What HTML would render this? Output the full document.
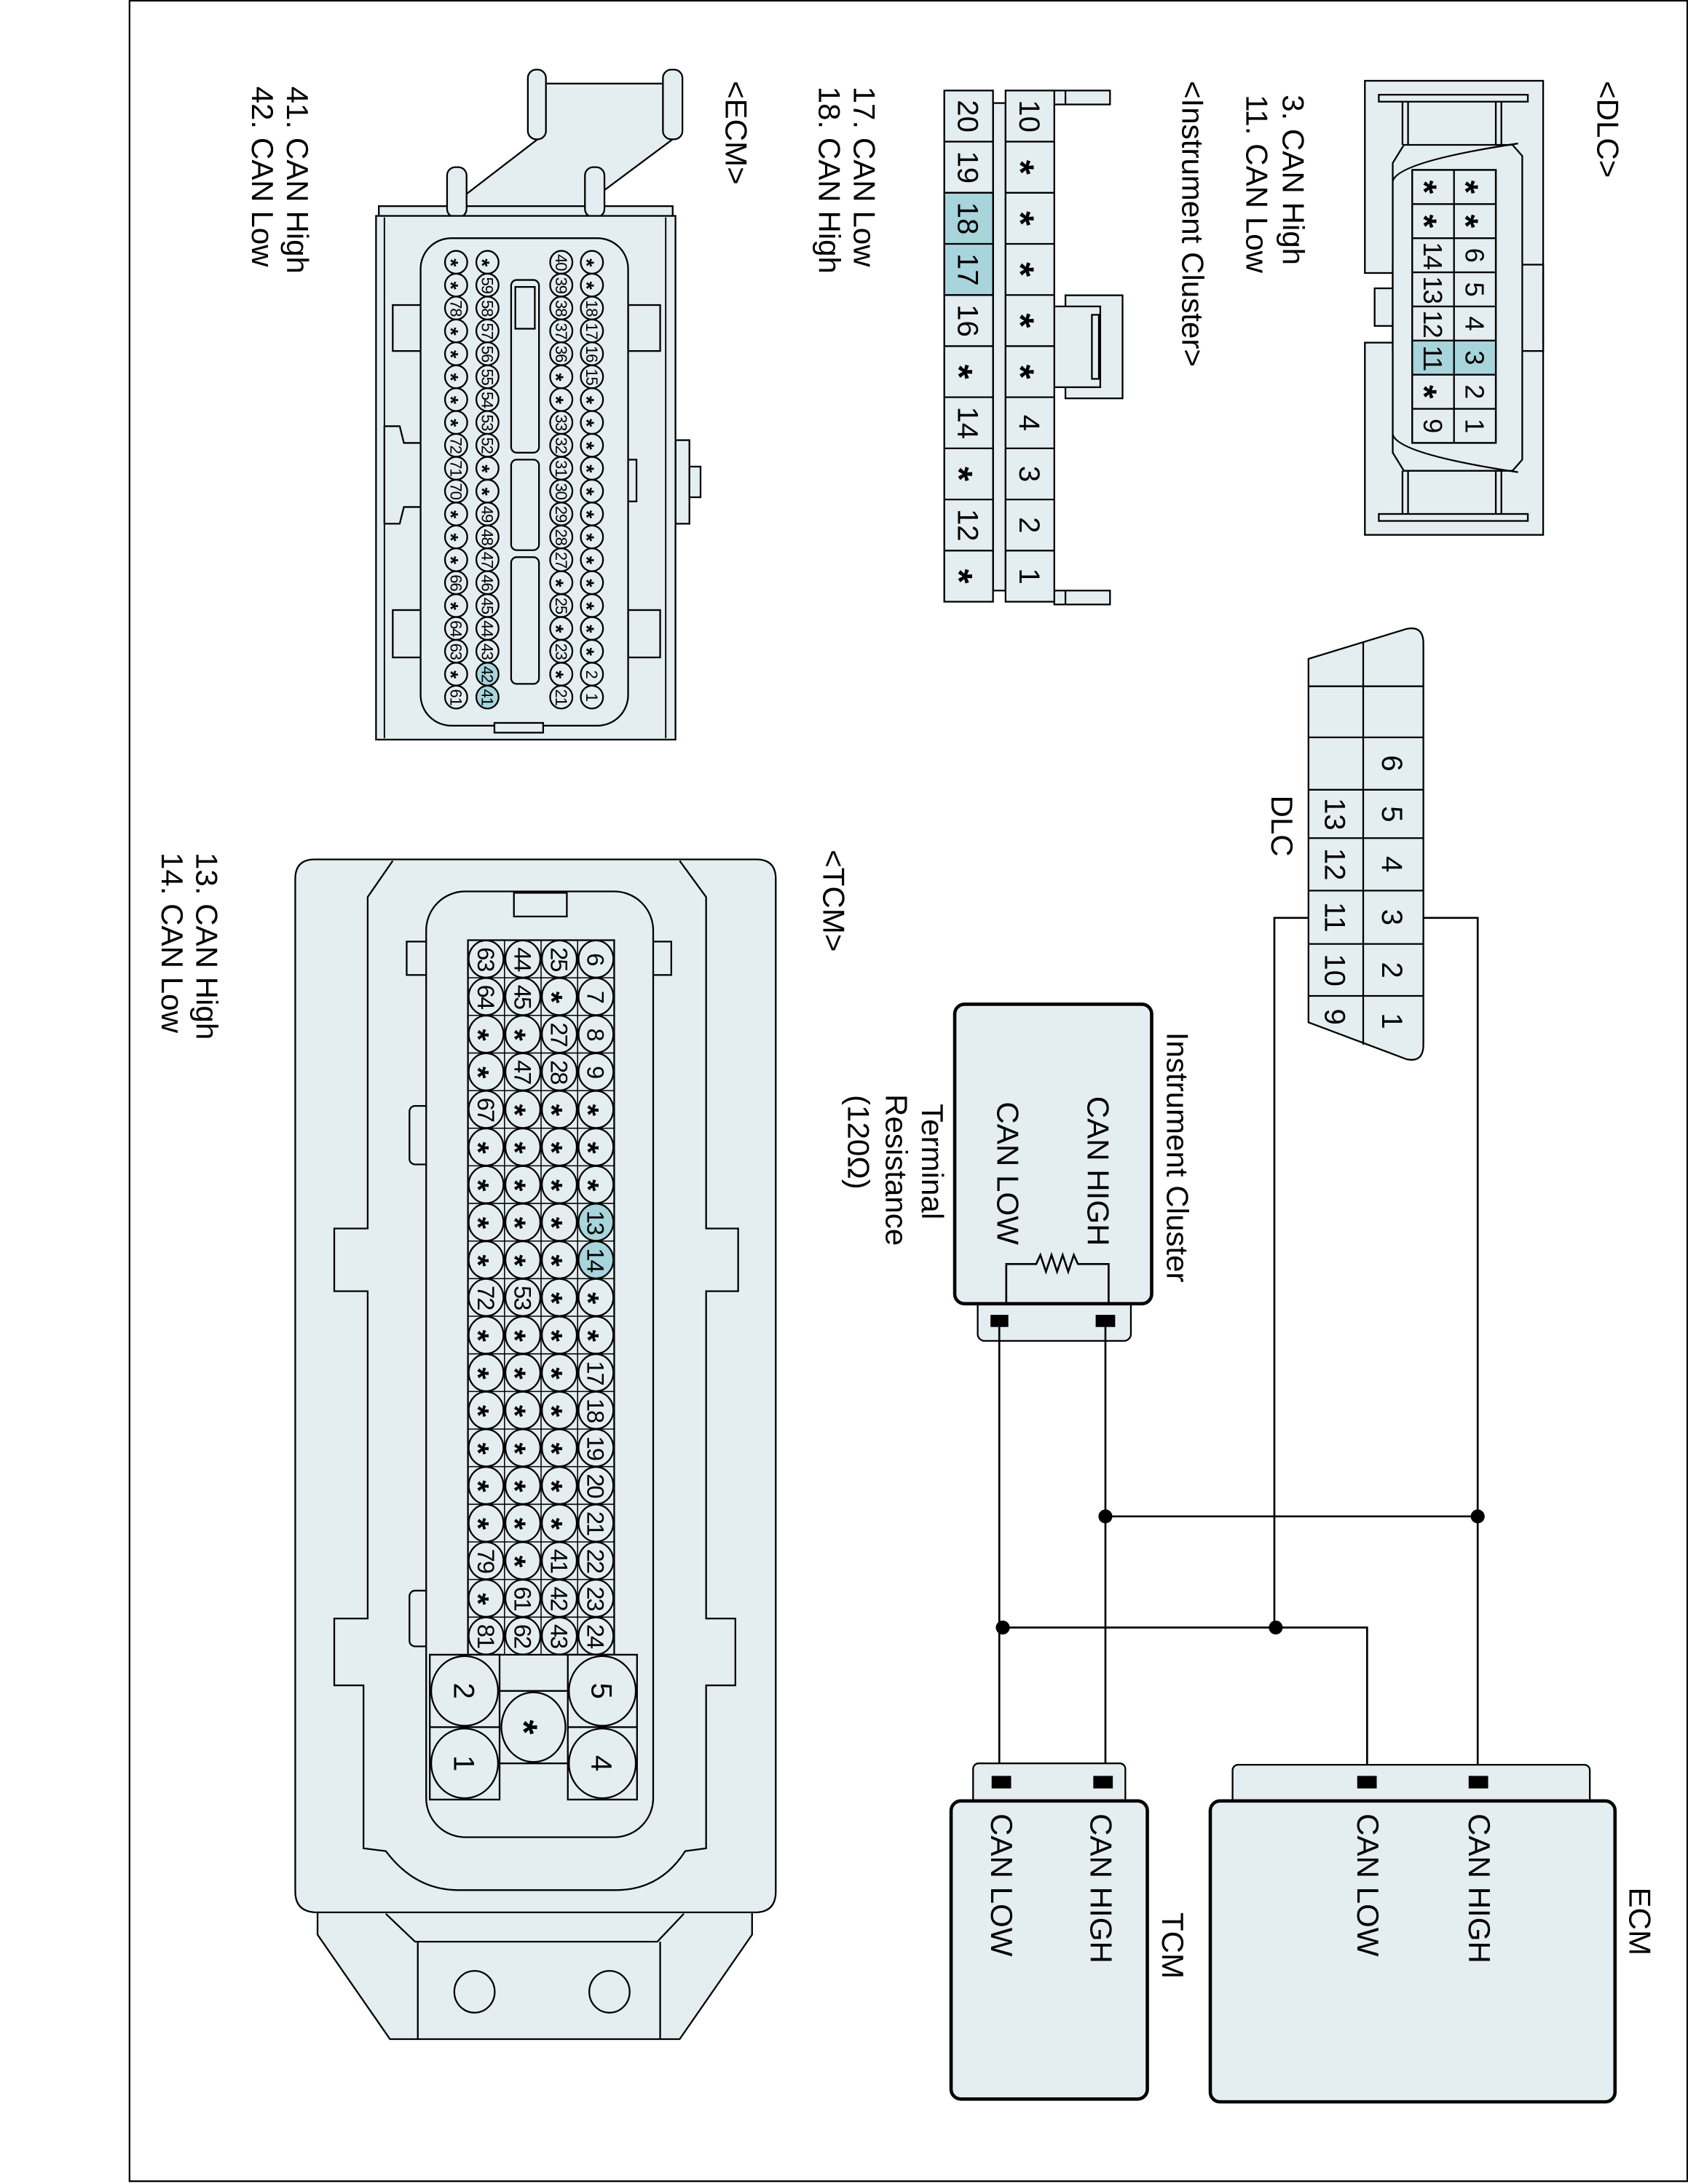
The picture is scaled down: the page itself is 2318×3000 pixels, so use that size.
<!DOCTYPE html>
<html><head><meta charset="utf-8"><style>
html,body{margin:0;padding:0;background:#fff}
svg{display:block}
text{font-family:"Liberation Sans",sans-serif;fill:#000}
.L{font-size:22px}
.p{font-size:19px;text-anchor:middle}
.q{font-size:21px;text-anchor:middle}
.e{font-size:11.5px;text-anchor:middle;letter-spacing:-0.6px}
.t{font-size:17px;text-anchor:middle;letter-spacing:-1px}
.s{font-weight:bold}
.p.s{font-size:25px}
.q.s{font-size:27px}
.e.s{font-size:15px}
.t.s{font-size:22px}
.f{fill:#e4eef0;stroke:#000;stroke-width:1.2}
.h{fill:#a8d4dc}
.w{fill:none;stroke:#000;stroke-width:1.4}
</style></head><body>
<svg width="2318" height="3000" viewBox="0 0 1212 1568" preserveAspectRatio="none" xmlns="http://www.w3.org/2000/svg">
<rect x="0" y="0" width="1212" height="1568" fill="#fff"/>
<rect x="93" y="0.5" width="1118.5" height="1565.5" fill="none" stroke="#000" stroke-width="1.2"/>

<text class="L" transform="translate(1147,58) rotate(90)">&lt;DLC&gt;</text>
<text class="L" transform="translate(921,68) rotate(90)">3. CAN High</text>
<text class="L" transform="translate(895,68) rotate(90)">11. CAN Low</text>
<text class="L" transform="translate(849,58) rotate(90)">&lt;Instrument Cluster&gt;</text>
<text class="L" transform="translate(613,62) rotate(90)">17. CAN Low</text>
<text class="L" transform="translate(588,62) rotate(90)">18. CAN High</text>
<text class="L" transform="translate(521,58) rotate(90)">&lt;ECM&gt;</text>
<text class="L" transform="translate(206,62) rotate(90)">41. CAN High</text>
<text class="L" transform="translate(181,62) rotate(90)">42. CAN Low</text>
<text class="L" transform="translate(591,610) rotate(90)">&lt;TCM&gt;</text>
<text class="L" transform="translate(141,612) rotate(90)">13. CAN High</text>
<text class="L" transform="translate(116,612) rotate(90)">14. CAN Low</text>

<!-- DLC connector -->
<rect class="f" x="980" y="58" width="128" height="138"/>
<rect class="f" x="980" y="246" width="128" height="138"/>
<rect class="f" x="1000" y="190" width="108" height="62" stroke="none"/>
<line x1="1000" y1="196" x2="1000" y2="246" stroke="#000" stroke-width="1.2"/>
<line x1="1108" y1="196" x2="1108" y2="246" stroke="#000" stroke-width="1.2"/>
<rect class="f" x="987" y="207" width="13" height="27"/>
<rect class="f" x="990" y="68" width="107" height="5"/>
<rect class="f" x="990" y="369" width="107" height="5"/>
<path class="f" d="M1007,73 V104 M1011,73 V104 M1074,73 V104 M1078,73 V104 M1007,338 V369 M1011,338 V369 M1074,338 V369 M1078,338 V369"/>
<path class="f" d="M1000,117 L1008,104 L1086,104 L1093,112 L1093,330 L1086,338 L1008,338 L1000,325 Z"/>
<path d="M1000,130 Q1004,116 1090,103 M1000,312 Q1004,326 1090,339" fill="none" stroke="#000" stroke-width="1.2"/>
<rect class="f" x="1014" y="122" width="60" height="196"/>
<rect class="h" x="1014" y="244.5" width="60" height="24.5"/>
<path d="M1044,122 V318 M1014,146.5 H1074 M1014,171 H1074 M1014,195.5 H1074 M1014,220 H1074 M1014,244.5 H1074 M1014,269 H1074 M1014,293.5 H1074" stroke="#000" stroke-width="1.2"/>
<rect x="1014" y="122" width="60" height="196" fill="none" stroke="#000" stroke-width="1.2"/>
<g>
<text class="p s" transform="translate(1059,134.3) rotate(90)" dy=".6em">*</text>
<text class="p s" transform="translate(1059,158.8) rotate(90)" dy=".6em">*</text>
<text class="p" transform="translate(1059,183.3) rotate(90)" dy=".36em">6</text>
<text class="p" transform="translate(1059,207.8) rotate(90)" dy=".36em">5</text>
<text class="p" transform="translate(1059,232.3) rotate(90)" dy=".36em">4</text>
<text class="p" transform="translate(1059,256.8) rotate(90)" dy=".36em">3</text>
<text class="p" transform="translate(1059,281.3) rotate(90)" dy=".36em">2</text>
<text class="p" transform="translate(1059,305.8) rotate(90)" dy=".36em">1</text>
<text class="p s" transform="translate(1029,134.3) rotate(90)" dy=".6em">*</text>
<text class="p s" transform="translate(1029,158.8) rotate(90)" dy=".6em">*</text>
<text class="p" transform="translate(1029,183.3) rotate(90)" dy=".36em" letter-spacing="-1">14</text>
<text class="p" transform="translate(1029,207.8) rotate(90)" dy=".36em" letter-spacing="-1">13</text>
<text class="p" transform="translate(1029,232.3) rotate(90)" dy=".36em" letter-spacing="-1">12</text>
<text class="p" transform="translate(1029,256.8) rotate(90)" dy=".36em" letter-spacing="-1">11</text>
<text class="p s" transform="translate(1029,281.3) rotate(90)" dy=".6em">*</text>
<text class="p" transform="translate(1029,305.8) rotate(90)" dy=".36em">9</text>
</g>

<!-- Instrument cluster connector -->
<rect class="f" x="757" y="65" width="40" height="10"/>
<line x1="765" y1="65" x2="765" y2="75" stroke="#000" stroke-width="1.2"/>
<rect class="f" x="757" y="424" width="40" height="10"/>
<line x1="765" y1="424" x2="765" y2="434" stroke="#000" stroke-width="1.2"/>
<rect class="f" x="765" y="212" width="41" height="74"/>
<rect class="f" x="757" y="220" width="33" height="58"/>
<rect class="f" x="784" y="226" width="5" height="46"/>
<rect class="f" x="713" y="74" width="9" height="350"/>
<rect class="f" x="722" y="65" width="35" height="367"/>
<rect class="f" x="678" y="65" width="35" height="367"/>
<rect class="h" x="678" y="138.4" width="35" height="73.4" stroke="#000" stroke-width="1.2"/>
<path d="M722,101.7 H757 M722,138.4 H757 M722,175.1 H757 M722,211.8 H757 M722,248.5 H757 M722,285.2 H757 M722,321.9 H757 M722,358.6 H757 M722,395.3 H757 M678,101.7 H713 M678,138.4 H713 M678,175.1 H713 M678,211.8 H713 M678,248.5 H713 M678,285.2 H713 M678,321.9 H713 M678,358.6 H713 M678,395.3 H713" stroke="#000" stroke-width="1.2"/>
<g>
<text class="q" transform="translate(739.5,83.4) rotate(90)" dy=".36em">10</text>
<text class="q s" transform="translate(739.5,120.1) rotate(90)" dy=".6em">*</text>
<text class="q s" transform="translate(739.5,156.8) rotate(90)" dy=".6em">*</text>
<text class="q s" transform="translate(739.5,193.5) rotate(90)" dy=".6em">*</text>
<text class="q s" transform="translate(739.5,230.2) rotate(90)" dy=".6em">*</text>
<text class="q s" transform="translate(739.5,266.9) rotate(90)" dy=".6em">*</text>
<text class="q" transform="translate(739.5,303.6) rotate(90)" dy=".36em">4</text>
<text class="q" transform="translate(739.5,340.3) rotate(90)" dy=".36em">3</text>
<text class="q" transform="translate(739.5,377) rotate(90)" dy=".36em">2</text>
<text class="q" transform="translate(739.5,413.7) rotate(90)" dy=".36em">1</text>
<text class="q" transform="translate(695.5,83.4) rotate(90)" dy=".36em">20</text>
<text class="q" transform="translate(695.5,120.1) rotate(90)" dy=".36em">19</text>
<text class="q" transform="translate(695.5,156.8) rotate(90)" dy=".36em">18</text>
<text class="q" transform="translate(695.5,193.5) rotate(90)" dy=".36em">17</text>
<text class="q" transform="translate(695.5,230.2) rotate(90)" dy=".36em">16</text>
<text class="q s" transform="translate(695.5,266.9) rotate(90)" dy=".6em">*</text>
<text class="q" transform="translate(695.5,303.6) rotate(90)" dy=".36em">14</text>
<text class="q s" transform="translate(695.5,340.3) rotate(90)" dy=".6em">*</text>
<text class="q" transform="translate(695.5,377) rotate(90)" dy=".36em">12</text>
<text class="q s" transform="translate(695.5,413.7) rotate(90)" dy=".6em">*</text>
</g>

<!-- ECM connector -->
<path class="f" d="M386,60 L483,60 L483,100 L432,138 L432,150 L334,150 L334,140 L386,100 Z"/>
<rect class="f" x="379" y="50" width="13" height="50" rx="6"/>
<rect class="f" x="476" y="50" width="14" height="50" rx="6"/>
<rect class="f" x="272" y="148" width="211" height="8"/>
<rect class="f" x="321" y="120" width="14" height="36" rx="6"/>
<rect class="f" x="420" y="120" width="14" height="36" rx="6"/>
<rect class="f" x="485" y="316" width="10" height="60"/>
<rect class="f" x="495" y="335" width="8" height="22"/>
<rect class="f" x="270" y="155" width="215" height="376"/>
<path d="M276,156 V530 M478,156 V530" stroke="#000" stroke-width="1"/>
<rect class="f" x="282" y="219" width="21" height="33"/>
<rect class="f" x="282" y="438" width="21" height="34"/>
<rect class="f" x="451" y="219" width="23" height="33"/>
<rect class="f" x="451" y="438" width="23" height="34"/>
<path class="f" d="M276,306 L287,306 L290,318 L303,318 L303,364 L290,364 L287,376 L276,376 Z"/>
<rect class="f" x="449" y="330" width="8" height="30"/>
<rect class="f" x="302" y="171" width="149" height="350" rx="22"/>
<rect class="f" x="355" y="519" width="35" height="7"/>
<rect class="f" x="367" y="201" width="20" height="124" rx="4"/>
<rect class="f" x="370" y="206" width="14" height="30"/>
<rect class="f" x="367" y="330" width="20" height="65" rx="4"/>
<rect class="f" x="367" y="400" width="20" height="91" rx="4"/>
<g class="f">
<ellipse cx="327.5" cy="188.3" rx="8" ry="8.2"/><ellipse cx="327.5" cy="204.7" rx="8" ry="8.2"/><ellipse cx="327.5" cy="221.2" rx="8" ry="8.2"/><ellipse cx="327.5" cy="237.6" rx="8" ry="8.2"/><ellipse cx="327.5" cy="254" rx="8" ry="8.2"/><ellipse cx="327.5" cy="270.5" rx="8" ry="8.2"/><ellipse cx="327.5" cy="286.9" rx="8" ry="8.2"/><ellipse cx="327.5" cy="303.3" rx="8" ry="8.2"/><ellipse cx="327.5" cy="319.7" rx="8" ry="8.2"/><ellipse cx="327.5" cy="336.2" rx="8" ry="8.2"/><ellipse cx="327.5" cy="352.6" rx="8" ry="8.2"/><ellipse cx="327.5" cy="369" rx="8" ry="8.2"/><ellipse cx="327.5" cy="385.5" rx="8" ry="8.2"/><ellipse cx="327.5" cy="401.9" rx="8" ry="8.2"/><ellipse cx="327.5" cy="418.3" rx="8" ry="8.2"/><ellipse cx="327.5" cy="434.8" rx="8" ry="8.2"/><ellipse cx="327.5" cy="451.2" rx="8" ry="8.2"/><ellipse cx="327.5" cy="467.6" rx="8" ry="8.2"/><ellipse cx="327.5" cy="484" rx="8" ry="8.2"/><ellipse cx="327.5" cy="500.5" rx="8" ry="8.2"/>
<ellipse cx="350" cy="188.3" rx="8" ry="8.2"/><ellipse cx="350" cy="204.7" rx="8" ry="8.2"/><ellipse cx="350" cy="221.2" rx="8" ry="8.2"/><ellipse cx="350" cy="237.6" rx="8" ry="8.2"/><ellipse cx="350" cy="254" rx="8" ry="8.2"/><ellipse cx="350" cy="270.5" rx="8" ry="8.2"/><ellipse cx="350" cy="286.9" rx="8" ry="8.2"/><ellipse cx="350" cy="303.3" rx="8" ry="8.2"/><ellipse cx="350" cy="319.7" rx="8" ry="8.2"/><ellipse cx="350" cy="336.2" rx="8" ry="8.2"/><ellipse cx="350" cy="352.6" rx="8" ry="8.2"/><ellipse cx="350" cy="369" rx="8" ry="8.2"/><ellipse cx="350" cy="385.5" rx="8" ry="8.2"/><ellipse cx="350" cy="401.9" rx="8" ry="8.2"/><ellipse cx="350" cy="418.3" rx="8" ry="8.2"/><ellipse cx="350" cy="434.8" rx="8" ry="8.2"/><ellipse cx="350" cy="451.2" rx="8" ry="8.2"/><ellipse cx="350" cy="467.6" rx="8" ry="8.2"/><ellipse cx="350" cy="484" rx="8" ry="8.2" fill="#a8d4dc"/><ellipse cx="350" cy="500.5" rx="8" ry="8.2" fill="#a8d4dc"/>
<ellipse cx="403" cy="188.3" rx="8" ry="8.2"/><ellipse cx="403" cy="204.7" rx="8" ry="8.2"/><ellipse cx="403" cy="221.2" rx="8" ry="8.2"/><ellipse cx="403" cy="237.6" rx="8" ry="8.2"/><ellipse cx="403" cy="254" rx="8" ry="8.2"/><ellipse cx="403" cy="270.5" rx="8" ry="8.2"/><ellipse cx="403" cy="286.9" rx="8" ry="8.2"/><ellipse cx="403" cy="303.3" rx="8" ry="8.2"/><ellipse cx="403" cy="319.7" rx="8" ry="8.2"/><ellipse cx="403" cy="336.2" rx="8" ry="8.2"/><ellipse cx="403" cy="352.6" rx="8" ry="8.2"/><ellipse cx="403" cy="369" rx="8" ry="8.2"/><ellipse cx="403" cy="385.5" rx="8" ry="8.2"/><ellipse cx="403" cy="401.9" rx="8" ry="8.2"/><ellipse cx="403" cy="418.3" rx="8" ry="8.2"/><ellipse cx="403" cy="434.8" rx="8" ry="8.2"/><ellipse cx="403" cy="451.2" rx="8" ry="8.2"/><ellipse cx="403" cy="467.6" rx="8" ry="8.2"/><ellipse cx="403" cy="484" rx="8" ry="8.2"/><ellipse cx="403" cy="500.5" rx="8" ry="8.2"/>
<ellipse cx="425" cy="188.3" rx="8" ry="8.2"/><ellipse cx="425" cy="204.7" rx="8" ry="8.2"/><ellipse cx="425" cy="221.2" rx="8" ry="8.2"/><ellipse cx="425" cy="237.6" rx="8" ry="8.2"/><ellipse cx="425" cy="254" rx="8" ry="8.2"/><ellipse cx="425" cy="270.5" rx="8" ry="8.2"/><ellipse cx="425" cy="286.9" rx="8" ry="8.2"/><ellipse cx="425" cy="303.3" rx="8" ry="8.2"/><ellipse cx="425" cy="319.7" rx="8" ry="8.2"/><ellipse cx="425" cy="336.2" rx="8" ry="8.2"/><ellipse cx="425" cy="352.6" rx="8" ry="8.2"/><ellipse cx="425" cy="369" rx="8" ry="8.2"/><ellipse cx="425" cy="385.5" rx="8" ry="8.2"/><ellipse cx="425" cy="401.9" rx="8" ry="8.2"/><ellipse cx="425" cy="418.3" rx="8" ry="8.2"/><ellipse cx="425" cy="434.8" rx="8" ry="8.2"/><ellipse cx="425" cy="451.2" rx="8" ry="8.2"/><ellipse cx="425" cy="467.6" rx="8" ry="8.2"/><ellipse cx="425" cy="484" rx="8" ry="8.2"/><ellipse cx="425" cy="500.5" rx="8" ry="8.2"/>
</g>
<g>
<text class="e s" transform="translate(327.5,188.3) rotate(90)" dy=".6em">*</text>
<text class="e s" transform="translate(327.5,204.7) rotate(90)" dy=".6em">*</text>
<text class="e" transform="translate(327.5,221.2) rotate(90)" dy=".36em">78</text>
<text class="e s" transform="translate(327.5,237.6) rotate(90)" dy=".6em">*</text>
<text class="e s" transform="translate(327.5,254) rotate(90)" dy=".6em">*</text>
<text class="e s" transform="translate(327.5,270.5) rotate(90)" dy=".6em">*</text>
<text class="e s" transform="translate(327.5,286.9) rotate(90)" dy=".6em">*</text>
<text class="e s" transform="translate(327.5,303.3) rotate(90)" dy=".6em">*</text>
<text class="e" transform="translate(327.5,319.7) rotate(90)" dy=".36em">72</text>
<text class="e" transform="translate(327.5,336.2) rotate(90)" dy=".36em">71</text>
<text class="e" transform="translate(327.5,352.6) rotate(90)" dy=".36em">70</text>
<text class="e s" transform="translate(327.5,369) rotate(90)" dy=".6em">*</text>
<text class="e s" transform="translate(327.5,385.5) rotate(90)" dy=".6em">*</text>
<text class="e s" transform="translate(327.5,401.9) rotate(90)" dy=".6em">*</text>
<text class="e" transform="translate(327.5,418.3) rotate(90)" dy=".36em">66</text>
<text class="e s" transform="translate(327.5,434.8) rotate(90)" dy=".6em">*</text>
<text class="e" transform="translate(327.5,451.2) rotate(90)" dy=".36em">64</text>
<text class="e" transform="translate(327.5,467.6) rotate(90)" dy=".36em">63</text>
<text class="e s" transform="translate(327.5,484) rotate(90)" dy=".6em">*</text>
<text class="e" transform="translate(327.5,500.5) rotate(90)" dy=".36em">61</text>

<text class="e s" transform="translate(350,188.3) rotate(90)" dy=".6em">*</text>
<text class="e" transform="translate(350,204.7) rotate(90)" dy=".36em">59</text>
<text class="e" transform="translate(350,221.2) rotate(90)" dy=".36em">58</text>
<text class="e" transform="translate(350,237.6) rotate(90)" dy=".36em">57</text>
<text class="e" transform="translate(350,254) rotate(90)" dy=".36em">56</text>
<text class="e" transform="translate(350,270.5) rotate(90)" dy=".36em">55</text>
<text class="e" transform="translate(350,286.9) rotate(90)" dy=".36em">54</text>
<text class="e" transform="translate(350,303.3) rotate(90)" dy=".36em">53</text>
<text class="e" transform="translate(350,319.7) rotate(90)" dy=".36em">52</text>
<text class="e s" transform="translate(350,336.2) rotate(90)" dy=".6em">*</text>
<text class="e s" transform="translate(350,352.6) rotate(90)" dy=".6em">*</text>
<text class="e" transform="translate(350,369) rotate(90)" dy=".36em">49</text>
<text class="e" transform="translate(350,385.5) rotate(90)" dy=".36em">48</text>
<text class="e" transform="translate(350,401.9) rotate(90)" dy=".36em">47</text>
<text class="e" transform="translate(350,418.3) rotate(90)" dy=".36em">46</text>
<text class="e" transform="translate(350,434.8) rotate(90)" dy=".36em">45</text>
<text class="e" transform="translate(350,451.2) rotate(90)" dy=".36em">44</text>
<text class="e" transform="translate(350,467.6) rotate(90)" dy=".36em">43</text>
<text class="e" transform="translate(350,484) rotate(90)" dy=".36em">42</text>
<text class="e" transform="translate(350,500.5) rotate(90)" dy=".36em">41</text>

<text class="e" transform="translate(403,188.3) rotate(90)" dy=".36em">40</text>
<text class="e" transform="translate(403,204.7) rotate(90)" dy=".36em">39</text>
<text class="e" transform="translate(403,221.2) rotate(90)" dy=".36em">38</text>
<text class="e" transform="translate(403,237.6) rotate(90)" dy=".36em">37</text>
<text class="e" transform="translate(403,254) rotate(90)" dy=".36em">36</text>
<text class="e s" transform="translate(403,270.5) rotate(90)" dy=".6em">*</text>
<text class="e s" transform="translate(403,286.9) rotate(90)" dy=".6em">*</text>
<text class="e" transform="translate(403,303.3) rotate(90)" dy=".36em">33</text>
<text class="e" transform="translate(403,319.7) rotate(90)" dy=".36em">32</text>
<text class="e" transform="translate(403,336.2) rotate(90)" dy=".36em">31</text>
<text class="e" transform="translate(403,352.6) rotate(90)" dy=".36em">30</text>
<text class="e" transform="translate(403,369) rotate(90)" dy=".36em">29</text>
<text class="e" transform="translate(403,385.5) rotate(90)" dy=".36em">28</text>
<text class="e" transform="translate(403,401.9) rotate(90)" dy=".36em">27</text>
<text class="e s" transform="translate(403,418.3) rotate(90)" dy=".6em">*</text>
<text class="e" transform="translate(403,434.8) rotate(90)" dy=".36em">25</text>
<text class="e s" transform="translate(403,451.2) rotate(90)" dy=".6em">*</text>
<text class="e" transform="translate(403,467.6) rotate(90)" dy=".36em">23</text>
<text class="e s" transform="translate(403,484) rotate(90)" dy=".6em">*</text>
<text class="e" transform="translate(403,500.5) rotate(90)" dy=".36em">21</text>

<text class="e s" transform="translate(425,188.3) rotate(90)" dy=".6em">*</text>
<text class="e s" transform="translate(425,204.7) rotate(90)" dy=".6em">*</text>
<text class="e" transform="translate(425,221.2) rotate(90)" dy=".36em">18</text>
<text class="e" transform="translate(425,237.6) rotate(90)" dy=".36em">17</text>
<text class="e" transform="translate(425,254) rotate(90)" dy=".36em">16</text>
<text class="e" transform="translate(425,270.5) rotate(90)" dy=".36em">15</text>
<text class="e s" transform="translate(425,286.9) rotate(90)" dy=".6em">*</text>
<text class="e s" transform="translate(425,303.3) rotate(90)" dy=".6em">*</text>
<text class="e s" transform="translate(425,319.7) rotate(90)" dy=".6em">*</text>
<text class="e s" transform="translate(425,336.2) rotate(90)" dy=".6em">*</text>
<text class="e s" transform="translate(425,352.6) rotate(90)" dy=".6em">*</text>
<text class="e s" transform="translate(425,369) rotate(90)" dy=".6em">*</text>
<text class="e s" transform="translate(425,385.5) rotate(90)" dy=".6em">*</text>
<text class="e s" transform="translate(425,401.9) rotate(90)" dy=".6em">*</text>
<text class="e s" transform="translate(425,418.3) rotate(90)" dy=".6em">*</text>
<text class="e s" transform="translate(425,434.8) rotate(90)" dy=".6em">*</text>
<text class="e s" transform="translate(425,451.2) rotate(90)" dy=".6em">*</text>
<text class="e s" transform="translate(425,467.6) rotate(90)" dy=".6em">*</text>
<text class="e" transform="translate(425,484) rotate(90)" dy=".36em">2</text>
<text class="e" transform="translate(425,500.5) rotate(90)" dy=".36em">1</text>
</g>

<!-- TCM connector -->
<path class="f" d="M228,1373 L228,1389 L280,1464 L488,1464 L540,1389 L540,1373 Z"/>
<path d="M277,1374 L298,1394 L472,1394 L491,1374 M300,1394 V1464 M474,1394 V1464" fill="none" stroke="#000" stroke-width="1.2"/>
<ellipse class="f" cx="340.7" cy="1430" rx="14.5" ry="15"/>
<ellipse class="f" cx="437.6" cy="1430" rx="14.5" ry="15"/>
<path class="f" d="M226,617 L543,617 Q557,617 557,631 L557,1358 Q557,1373 542,1373 L228,1373 Q212,1373 212,1358 L212,631 Q212,617 226,617 Z"/>
<path fill="none" stroke="#000" stroke-width="1.2" d="M282,618 L264,644 L264,882 L240,882 L240,927 L264,927 L264,1162 L240,1162 L240,1210 L261,1210 L261,1327 L277,1329 Q298,1357 329,1357 L442,1357 Q474,1357 492,1329 L507,1327 L507,1210 L528,1210 L528,1162 L507,1162 L507,927 L530,927 L530,882 L507,882 L507,644 L488,618"/>
<rect class="f" x="292" y="676" width="190" height="24"/>
<rect class="f" x="294" y="794" width="174" height="42" rx="4"/>
<rect class="f" x="294" y="1142" width="174" height="40" rx="4"/>
<rect class="f" x="306" y="640" width="163" height="679" rx="28"/>
<rect class="f" x="369" y="641" width="38" height="17"/>
<rect class="f" x="336" y="675" width="105" height="513"/>
<path d="M362.25,675 V1188 M388.5,675 V1188 M414.75,675 V1188 M336,702 H441 M336,729 H441 M336,756 H441 M336,783 H441 M336,810 H441 M336,837 H441 M336,864 H441 M336,891 H441 M336,918 H441 M336,945 H441 M336,972 H441 M336,999 H441 M336,1026 H441 M336,1053 H441 M336,1080 H441 M336,1107 H441 M336,1134 H441 M336,1161 H441" stroke="#000" stroke-width="0.8"/>
<g class="f">
<ellipse cx="349" cy="688.5" rx="12.5" ry="13.3"/><ellipse cx="349" cy="715.5" rx="12.5" ry="13.3"/><ellipse cx="349" cy="742.5" rx="12.5" ry="13.3"/><ellipse cx="349" cy="769.5" rx="12.5" ry="13.3"/><ellipse cx="349" cy="796.5" rx="12.5" ry="13.3"/><ellipse cx="349" cy="823.5" rx="12.5" ry="13.3"/><ellipse cx="349" cy="850.5" rx="12.5" ry="13.3"/><ellipse cx="349" cy="877.5" rx="12.5" ry="13.3"/><ellipse cx="349" cy="904.5" rx="12.5" ry="13.3"/><ellipse cx="349" cy="931.5" rx="12.5" ry="13.3"/><ellipse cx="349" cy="958.5" rx="12.5" ry="13.3"/><ellipse cx="349" cy="985.5" rx="12.5" ry="13.3"/><ellipse cx="349" cy="1012.5" rx="12.5" ry="13.3"/><ellipse cx="349" cy="1039.5" rx="12.5" ry="13.3"/><ellipse cx="349" cy="1066.5" rx="12.5" ry="13.3"/><ellipse cx="349" cy="1093.5" rx="12.5" ry="13.3"/><ellipse cx="349" cy="1120.5" rx="12.5" ry="13.3"/><ellipse cx="349" cy="1147.5" rx="12.5" ry="13.3"/><ellipse cx="349" cy="1174.5" rx="12.5" ry="13.3"/>
<ellipse cx="375.4" cy="688.5" rx="12.5" ry="13.3"/><ellipse cx="375.4" cy="715.5" rx="12.5" ry="13.3"/><ellipse cx="375.4" cy="742.5" rx="12.5" ry="13.3"/><ellipse cx="375.4" cy="769.5" rx="12.5" ry="13.3"/><ellipse cx="375.4" cy="796.5" rx="12.5" ry="13.3"/><ellipse cx="375.4" cy="823.5" rx="12.5" ry="13.3"/><ellipse cx="375.4" cy="850.5" rx="12.5" ry="13.3"/><ellipse cx="375.4" cy="877.5" rx="12.5" ry="13.3"/><ellipse cx="375.4" cy="904.5" rx="12.5" ry="13.3"/><ellipse cx="375.4" cy="931.5" rx="12.5" ry="13.3"/><ellipse cx="375.4" cy="958.5" rx="12.5" ry="13.3"/><ellipse cx="375.4" cy="985.5" rx="12.5" ry="13.3"/><ellipse cx="375.4" cy="1012.5" rx="12.5" ry="13.3"/><ellipse cx="375.4" cy="1039.5" rx="12.5" ry="13.3"/><ellipse cx="375.4" cy="1066.5" rx="12.5" ry="13.3"/><ellipse cx="375.4" cy="1093.5" rx="12.5" ry="13.3"/><ellipse cx="375.4" cy="1120.5" rx="12.5" ry="13.3"/><ellipse cx="375.4" cy="1147.5" rx="12.5" ry="13.3"/><ellipse cx="375.4" cy="1174.5" rx="12.5" ry="13.3"/>
<ellipse cx="401.6" cy="688.5" rx="12.5" ry="13.3"/><ellipse cx="401.6" cy="715.5" rx="12.5" ry="13.3"/><ellipse cx="401.6" cy="742.5" rx="12.5" ry="13.3"/><ellipse cx="401.6" cy="769.5" rx="12.5" ry="13.3"/><ellipse cx="401.6" cy="796.5" rx="12.5" ry="13.3"/><ellipse cx="401.6" cy="823.5" rx="12.5" ry="13.3"/><ellipse cx="401.6" cy="850.5" rx="12.5" ry="13.3"/><ellipse cx="401.6" cy="877.5" rx="12.5" ry="13.3"/><ellipse cx="401.6" cy="904.5" rx="12.5" ry="13.3"/><ellipse cx="401.6" cy="931.5" rx="12.5" ry="13.3"/><ellipse cx="401.6" cy="958.5" rx="12.5" ry="13.3"/><ellipse cx="401.6" cy="985.5" rx="12.5" ry="13.3"/><ellipse cx="401.6" cy="1012.5" rx="12.5" ry="13.3"/><ellipse cx="401.6" cy="1039.5" rx="12.5" ry="13.3"/><ellipse cx="401.6" cy="1066.5" rx="12.5" ry="13.3"/><ellipse cx="401.6" cy="1093.5" rx="12.5" ry="13.3"/><ellipse cx="401.6" cy="1120.5" rx="12.5" ry="13.3"/><ellipse cx="401.6" cy="1147.5" rx="12.5" ry="13.3"/><ellipse cx="401.6" cy="1174.5" rx="12.5" ry="13.3"/>
<ellipse cx="427.9" cy="688.5" rx="12.5" ry="13.3"/><ellipse cx="427.9" cy="715.5" rx="12.5" ry="13.3"/><ellipse cx="427.9" cy="742.5" rx="12.5" ry="13.3"/><ellipse cx="427.9" cy="769.5" rx="12.5" ry="13.3"/><ellipse cx="427.9" cy="796.5" rx="12.5" ry="13.3"/><ellipse cx="427.9" cy="823.5" rx="12.5" ry="13.3"/><ellipse cx="427.9" cy="850.5" rx="12.5" ry="13.3"/><ellipse cx="427.9" cy="877.5" rx="12.5" ry="13.3" fill="#a8d4dc"/><ellipse cx="427.9" cy="904.5" rx="12.5" ry="13.3" fill="#a8d4dc"/><ellipse cx="427.9" cy="931.5" rx="12.5" ry="13.3"/><ellipse cx="427.9" cy="958.5" rx="12.5" ry="13.3"/><ellipse cx="427.9" cy="985.5" rx="12.5" ry="13.3"/><ellipse cx="427.9" cy="1012.5" rx="12.5" ry="13.3"/><ellipse cx="427.9" cy="1039.5" rx="12.5" ry="13.3"/><ellipse cx="427.9" cy="1066.5" rx="12.5" ry="13.3"/><ellipse cx="427.9" cy="1093.5" rx="12.5" ry="13.3"/><ellipse cx="427.9" cy="1120.5" rx="12.5" ry="13.3"/><ellipse cx="427.9" cy="1147.5" rx="12.5" ry="13.3"/><ellipse cx="427.9" cy="1174.5" rx="12.5" ry="13.3"/>
</g>
<g>
<text class="t" transform="translate(349,688.5) rotate(90)" dy=".36em">63</text>
<text class="t" transform="translate(349,715.5) rotate(90)" dy=".36em">64</text>
<text class="t s" transform="translate(349,742.5) rotate(90)" dy=".6em">*</text>
<text class="t s" transform="translate(349,769.5) rotate(90)" dy=".6em">*</text>
<text class="t" transform="translate(349,796.5) rotate(90)" dy=".36em">67</text>
<text class="t s" transform="translate(349,823.5) rotate(90)" dy=".6em">*</text>
<text class="t s" transform="translate(349,850.5) rotate(90)" dy=".6em">*</text>
<text class="t s" transform="translate(349,877.5) rotate(90)" dy=".6em">*</text>
<text class="t s" transform="translate(349,904.5) rotate(90)" dy=".6em">*</text>
<text class="t" transform="translate(349,931.5) rotate(90)" dy=".36em">72</text>
<text class="t s" transform="translate(349,958.5) rotate(90)" dy=".6em">*</text>
<text class="t s" transform="translate(349,985.5) rotate(90)" dy=".6em">*</text>
<text class="t s" transform="translate(349,1012.5) rotate(90)" dy=".6em">*</text>
<text class="t s" transform="translate(349,1039.5) rotate(90)" dy=".6em">*</text>
<text class="t s" transform="translate(349,1066.5) rotate(90)" dy=".6em">*</text>
<text class="t s" transform="translate(349,1093.5) rotate(90)" dy=".6em">*</text>
<text class="t" transform="translate(349,1120.5) rotate(90)" dy=".36em">79</text>
<text class="t s" transform="translate(349,1147.5) rotate(90)" dy=".6em">*</text>
<text class="t" transform="translate(349,1174.5) rotate(90)" dy=".36em">81</text>

<text class="t" transform="translate(375.4,688.5) rotate(90)" dy=".36em">44</text>
<text class="t" transform="translate(375.4,715.5) rotate(90)" dy=".36em">45</text>
<text class="t s" transform="translate(375.4,742.5) rotate(90)" dy=".6em">*</text>
<text class="t" transform="translate(375.4,769.5) rotate(90)" dy=".36em">47</text>
<text class="t s" transform="translate(375.4,796.5) rotate(90)" dy=".6em">*</text>
<text class="t s" transform="translate(375.4,823.5) rotate(90)" dy=".6em">*</text>
<text class="t s" transform="translate(375.4,850.5) rotate(90)" dy=".6em">*</text>
<text class="t s" transform="translate(375.4,877.5) rotate(90)" dy=".6em">*</text>
<text class="t s" transform="translate(375.4,904.5) rotate(90)" dy=".6em">*</text>
<text class="t" transform="translate(375.4,931.5) rotate(90)" dy=".36em">53</text>
<text class="t s" transform="translate(375.4,958.5) rotate(90)" dy=".6em">*</text>
<text class="t s" transform="translate(375.4,985.5) rotate(90)" dy=".6em">*</text>
<text class="t s" transform="translate(375.4,1012.5) rotate(90)" dy=".6em">*</text>
<text class="t s" transform="translate(375.4,1039.5) rotate(90)" dy=".6em">*</text>
<text class="t s" transform="translate(375.4,1066.5) rotate(90)" dy=".6em">*</text>
<text class="t s" transform="translate(375.4,1093.5) rotate(90)" dy=".6em">*</text>
<text class="t s" transform="translate(375.4,1120.5) rotate(90)" dy=".6em">*</text>
<text class="t" transform="translate(375.4,1147.5) rotate(90)" dy=".36em">61</text>
<text class="t" transform="translate(375.4,1174.5) rotate(90)" dy=".36em">62</text>

<text class="t" transform="translate(401.6,688.5) rotate(90)" dy=".36em">25</text>
<text class="t s" transform="translate(401.6,715.5) rotate(90)" dy=".6em">*</text>
<text class="t" transform="translate(401.6,742.5) rotate(90)" dy=".36em">27</text>
<text class="t" transform="translate(401.6,769.5) rotate(90)" dy=".36em">28</text>
<text class="t s" transform="translate(401.6,796.5) rotate(90)" dy=".6em">*</text>
<text class="t s" transform="translate(401.6,823.5) rotate(90)" dy=".6em">*</text>
<text class="t s" transform="translate(401.6,850.5) rotate(90)" dy=".6em">*</text>
<text class="t s" transform="translate(401.6,877.5) rotate(90)" dy=".6em">*</text>
<text class="t s" transform="translate(401.6,904.5) rotate(90)" dy=".6em">*</text>
<text class="t s" transform="translate(401.6,931.5) rotate(90)" dy=".6em">*</text>
<text class="t s" transform="translate(401.6,958.5) rotate(90)" dy=".6em">*</text>
<text class="t s" transform="translate(401.6,985.5) rotate(90)" dy=".6em">*</text>
<text class="t s" transform="translate(401.6,1012.5) rotate(90)" dy=".6em">*</text>
<text class="t s" transform="translate(401.6,1039.5) rotate(90)" dy=".6em">*</text>
<text class="t s" transform="translate(401.6,1066.5) rotate(90)" dy=".6em">*</text>
<text class="t s" transform="translate(401.6,1093.5) rotate(90)" dy=".6em">*</text>
<text class="t" transform="translate(401.6,1120.5) rotate(90)" dy=".36em">41</text>
<text class="t" transform="translate(401.6,1147.5) rotate(90)" dy=".36em">42</text>
<text class="t" transform="translate(401.6,1174.5) rotate(90)" dy=".36em">43</text>

<text class="t" transform="translate(427.9,688.5) rotate(90)" dy=".36em">6</text>
<text class="t" transform="translate(427.9,715.5) rotate(90)" dy=".36em">7</text>
<text class="t" transform="translate(427.9,742.5) rotate(90)" dy=".36em">8</text>
<text class="t" transform="translate(427.9,769.5) rotate(90)" dy=".36em">9</text>
<text class="t s" transform="translate(427.9,796.5) rotate(90)" dy=".6em">*</text>
<text class="t s" transform="translate(427.9,823.5) rotate(90)" dy=".6em">*</text>
<text class="t s" transform="translate(427.9,850.5) rotate(90)" dy=".6em">*</text>
<text class="t" transform="translate(427.9,877.5) rotate(90)" dy=".36em">13</text>
<text class="t" transform="translate(427.9,904.5) rotate(90)" dy=".36em">14</text>
<text class="t s" transform="translate(427.9,931.5) rotate(90)" dy=".6em">*</text>
<text class="t s" transform="translate(427.9,958.5) rotate(90)" dy=".6em">*</text>
<text class="t" transform="translate(427.9,985.5) rotate(90)" dy=".36em">17</text>
<text class="t" transform="translate(427.9,1012.5) rotate(90)" dy=".36em">18</text>
<text class="t" transform="translate(427.9,1039.5) rotate(90)" dy=".36em">19</text>
<text class="t" transform="translate(427.9,1066.5) rotate(90)" dy=".36em">20</text>
<text class="t" transform="translate(427.9,1093.5) rotate(90)" dy=".36em">21</text>
<text class="t" transform="translate(427.9,1120.5) rotate(90)" dy=".36em">22</text>
<text class="t" transform="translate(427.9,1147.5) rotate(90)" dy=".36em">23</text>
<text class="t" transform="translate(427.9,1174.5) rotate(90)" dy=".36em">24</text>
</g>
<path class="f" d="M308.6,1188 H358.7 V1292 H308.6 Z M407.7,1188 H457.4 V1292 H407.7 Z M358.7,1214 H407.7 V1266 H358.7 Z"/>
<path d="M308.6,1240 H358.7 M407.7,1240 H457.4" stroke="#000" stroke-width="1.2"/>
<ellipse class="f" cx="333.6" cy="1214" rx="24" ry="25"/>
<ellipse class="f" cx="333.6" cy="1266" rx="24" ry="25"/>
<ellipse class="f" cx="432.5" cy="1214" rx="24" ry="25"/>
<ellipse class="f" cx="432.5" cy="1266" rx="24" ry="25"/>
<ellipse class="f" cx="383" cy="1240" rx="23" ry="25"/>
<text class="q" transform="translate(333.6,1214) rotate(90)" dy=".36em">2</text>
<text class="q" transform="translate(333.6,1266) rotate(90)" dy=".36em">1</text>
<text class="q" transform="translate(432.5,1214) rotate(90)" dy=".36em">5</text>
<text class="q" transform="translate(432.5,1266) rotate(90)" dy=".36em">4</text>
<text class="q s" transform="translate(383,1240) rotate(90)" dy=".6em">*</text>

<!-- Schematic DLC -->
<path class="f" d="M939.5,473 L1010,451.5 Q1022,449 1022,462 L1022,750 Q1022,763 1010,760.5 L939.5,734 Z"/>
<path d="M978.8,461 V750 M939.5,492.7 H1022 M939.5,529.4 H1022 M939.5,567 H1022 M939.5,601.7 H1022 M939.5,639.4 H1022 M939.5,677.7 H1022 M939.5,715 H1022" stroke="#000" stroke-width="1.2"/>
<g>
<text class="q" transform="translate(1000,548) rotate(90)" dy=".36em">6</text>
<text class="q" transform="translate(1000,584.5) rotate(90)" dy=".36em">5</text>
<text class="q" transform="translate(1000,620.5) rotate(90)" dy=".36em">4</text>
<text class="q" transform="translate(1000,658.5) rotate(90)" dy=".36em">3</text>
<text class="q" transform="translate(1000,696.5) rotate(90)" dy=".36em">2</text>
<text class="q" transform="translate(1000,733) rotate(90)" dy=".36em">1</text>
<text class="q" transform="translate(959,584.5) rotate(90)" dy=".36em">13</text>
<text class="q" transform="translate(959,620.5) rotate(90)" dy=".36em">12</text>
<text class="q" transform="translate(959,658.5) rotate(90)" dy=".36em">11</text>
<text class="q" transform="translate(959,696.5) rotate(90)" dy=".36em">10</text>
<text class="q" transform="translate(959,730) rotate(90)" dy=".36em">9</text>
</g>
<text class="L" transform="translate(913,571) rotate(90)">DLC</text>

<!-- Instrument Cluster box -->
<rect class="f" x="702" y="925" width="110" height="37.7" rx="5"/>
<rect x="685.5" y="721" width="141.4" height="215" rx="7" fill="#e4eef0" stroke="#000" stroke-width="2.4"/>
<path class="w" d="M722.5,936 V907.5 H744 L747,901 L751,913 L755,901 L759,913 L763,901 L767,913 L771,901 L774,907.5 H796 V936"/>
<rect x="711.2" y="944" width="12.8" height="8.7" fill="#000"/>
<rect x="786.7" y="944" width="14" height="8.7" fill="#000"/>
<text class="L" transform="translate(781,787) rotate(90)">CAN HIGH</text>
<text class="L" transform="translate(716,791) rotate(90)">CAN LOW</text>
<text class="L" transform="translate(838,741) rotate(90)">Instrument Cluster</text>
<text class="L" transform="translate(662,834) rotate(90)" text-anchor="middle">Terminal</text>
<text class="L" transform="translate(636,840) rotate(90)" text-anchor="middle">Resistance</text>
<text class="L" transform="translate(609,820) rotate(90)" text-anchor="middle">(120Ω)</text>

<!-- wires -->
<path class="w" d="M1022,659 H1061 V1279"/>
<path class="w" d="M939.5,659 H915 V1168.5"/>
<path class="w" d="M717.5,952.7 V1279"/>
<path class="w" d="M793.7,952.7 V1279"/>
<path class="w" d="M793.7,1088.7 H1061"/>
<path class="w" d="M719,1168.5 H981.6 V1279"/>
<circle cx="793.7" cy="1088.7" r="5"/>
<circle cx="1061" cy="1088.7" r="5"/>
<circle cx="720" cy="1168.5" r="5"/>
<circle cx="916" cy="1168.5" r="5"/>

<!-- TCM box -->
<rect class="f" x="698.7" y="1266" width="109.3" height="30" rx="4"/>
<rect x="682.9" y="1293" width="140.9" height="214" rx="7" fill="#e4eef0" stroke="#000" stroke-width="2.4"/>
<rect x="712" y="1275" width="14" height="9" fill="#000"/>
<rect x="785" y="1275" width="14" height="9" fill="#000"/>
<text class="L" transform="translate(783,1302) rotate(90)">CAN HIGH</text>
<text class="L" transform="translate(711.5,1302) rotate(90)">CAN LOW</text>
<text class="L" transform="translate(834.5,1373) rotate(90)">TCM</text>

<!-- ECM box -->
<rect class="f" x="885" y="1267" width="256.5" height="30" rx="4"/>
<rect x="869" y="1293" width="290.6" height="216" rx="7" fill="#e4eef0" stroke="#000" stroke-width="2.4"/>
<rect x="974.5" y="1275" width="14" height="9" fill="#000"/>
<rect x="1054.5" y="1275" width="14" height="9" fill="#000"/>
<text class="L" transform="translate(974.5,1302) rotate(90)">CAN LOW</text>
<text class="L" transform="translate(1054.5,1302) rotate(90)">CAN HIGH</text>
<text class="L" transform="translate(1170,1355) rotate(90)">ECM</text>
</svg>
</body></html>
